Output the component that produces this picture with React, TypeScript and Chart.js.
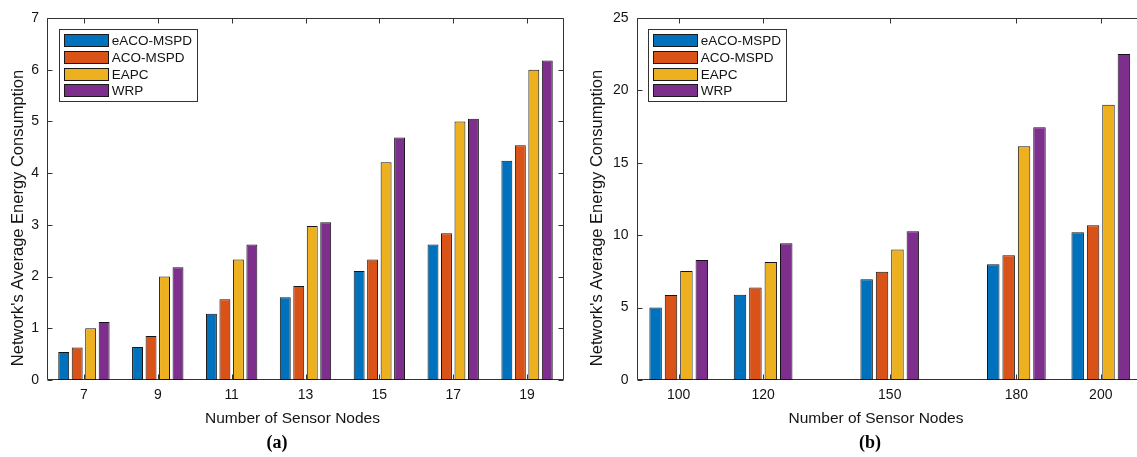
import React, { useEffect, useRef } from "react";
import { Chart, registerables } from "chart.js";

Chart.register(...registerables);

// ---------- data ----------
const seriesNames = ["eACO-MSPD", "ACO-MSPD", "EAPC", "WRP"];
const seriesColors = ["#0072BD", "#D95319", "#EDB120", "#7E2F8E"];

const nodesA = [7, 9, 11, 13, 15, 17, 19];
const eacoA = [0.54, 0.64, 1.28, 1.6, 2.11, 2.62, 4.24];
const acoA = [0.63, 0.85, 1.56, 1.82, 2.33, 2.84, 4.54];
const eapcA = [1.0, 2.0, 2.33, 2.98, 4.21, 5.0, 6.0];
const wrpA = [1.12, 2.18, 2.62, 3.05, 4.69, 5.05, 6.18];
const yTicksA = [0, 1, 2, 3, 4, 5, 6, 7];

const nodesB = [100, 120, 150, 180, 200];
const eacoB = [5.0, 5.89, 6.95, 7.99, 10.2];
const acoB = [5.87, 6.38, 7.48, 8.61, 10.68];
const eapcB = [7.53, 8.15, 9.02, 16.14, 19.01];
const wrpB = [8.29, 9.44, 10.27, 17.45, 22.51];
const yTicksB = [0, 5, 10, 15, 20, 25];

const xTitle = "Number of Sensor Nodes";
const yTitle = "Network's Average Energy Consumption";

const FONT = "'Liberation Sans', Arial, Helvetica, sans-serif";
const TEXT = "#141414";
const AXIS = "#333333";

type PanelCfg = {
  left: number;
  width: number;
  yAxisWidth: number;
  padRight: number;
  xMin: number;
  xMax: number;
  nodes: number[];
  series: number[][];
  yTicks: number[];
  xTitleX: number;
  panelLabel: string;
  panelLabelX: number;
  yTitleX: number;
  legendLeft: number;
};

const panelA: PanelCfg = {
  left: 0,
  width: 580,
  yAxisWidth: 47,
  padRight: 16,
  xMin: 6,
  xMax: 20,
  nodes: nodesA,
  series: [eacoA, acoA, eapcA, wrpA],
  yTicks: yTicksA,
  xTitleX: 292.5,
  panelLabel: "(a)",
  panelLabelX: 277,
  yTitleX: 18.5,
  legendLeft: 59.3,
};

const panelB: PanelCfg = {
  left: 580,
  width: 600,
  yAxisWidth: 56.5,
  padRight: 37,
  xMin: 90,
  xMax: 210,
  nodes: nodesB,
  series: [eacoB, acoB, eapcB, wrpB],
  yTicks: yTicksB,
  xTitleX: 296,
  panelLabel: "(b)",
  panelLabelX: 290,
  yTitleX: 17,
  legendLeft: 68.3,
};

function makeDecorPlugin(cfg: PanelCfg) {
  return {
    id: "matlabDecor",
    beforeDatasetsDraw(chart: any) {
      const { ctx, chartArea } = chart;
      const { left, right, top, bottom } = chartArea;
      const xs = chart.scales.x;
      const ys = chart.scales.y;
      ctx.save();
      ctx.strokeStyle = AXIS;
      ctx.lineWidth = 1;
      const L = Math.round(left) + 0.5;
      const R = Math.round(right) - 0.5;
      const T = Math.round(top) + 0.5;
      const B = Math.round(bottom) - 0.5;
      ctx.beginPath();
      ctx.moveTo(L, T);
      ctx.lineTo(R, T);
      ctx.lineTo(R, B);
      ctx.lineTo(L, B);
      ctx.closePath();
      ctx.stroke();
      const tl = 5;
      ctx.beginPath();
      for (const v of cfg.nodes) {
        const px = Math.round(xs.getPixelForValue(v)) + 0.5;
        ctx.moveTo(px, B);
        ctx.lineTo(px, B - tl);
        ctx.moveTo(px, T);
        ctx.lineTo(px, T + tl);
      }
      for (const v of cfg.yTicks) {
        const py = Math.round(ys.getPixelForValue(v)) + 0.5;
        ctx.moveTo(L, py);
        ctx.lineTo(L + tl, py);
        ctx.moveTo(R, py);
        ctx.lineTo(R - tl, py);
      }
      ctx.stroke();
      ctx.restore();
    },
    afterDraw(chart: any) {
      const { ctx } = chart;
      ctx.save();
      // axis titles
      ctx.fillStyle = TEXT;
      ctx.textAlign = "center";
      ctx.textBaseline = "middle";
      ctx.font = `15.5px ${FONT}`;
      ctx.fillText(xTitle, cfg.xTitleX, 418.5);
      ctx.save();
      ctx.translate(cfg.yTitleX, 218);
      ctx.rotate(-Math.PI / 2);
      ctx.font = `16.5px ${FONT}`;
      ctx.fillText(yTitle, 0, 0);
      ctx.restore();
      // panel label
      ctx.font = `bold 18px 'Liberation Serif', 'Times New Roman', serif`;
      ctx.fillStyle = "#000";
      ctx.fillText(cfg.panelLabel, cfg.panelLabelX, 443);

      // legend
      const bx = cfg.legendLeft;
      const by = 29.3;
      const bw = 138;
      const bh = 71.5;
      ctx.fillStyle = "#ffffff";
      ctx.fillRect(bx, by, bw, bh);
      ctx.strokeStyle = AXIS;
      ctx.lineWidth = 1;
      ctx.strokeRect(Math.round(bx) + 0.5, Math.round(by) + 0.5, Math.round(bw), Math.round(bh));
      ctx.font = `13.5px ${FONT}`;
      ctx.textAlign = "left";
      ctx.textBaseline = "middle";
      chart.data.datasets.forEach((ds: any, i: number) => {
        const sx = Math.round(bx + 4.4);
        const sy = Math.round(by + 4.7 + i * 16.8);
        ctx.fillStyle = "#1a1a1a";
        ctx.fillRect(sx, sy, 45, 13);
        ctx.fillStyle = ds.backgroundColor;
        ctx.fillRect(sx + 1, sy + 1, 43, 11);
        ctx.fillStyle = TEXT;
        ctx.fillText(ds.label, bx + 52.4, sy + 7);
      });
      ctx.restore();
    },
  };
}

function Panel({ cfg }: { cfg: PanelCfg }) {
  const ref = useRef<HTMLCanvasElement | null>(null);
  useEffect(() => {
    if (!ref.current) return;
    const datasets = cfg.series.map((vals, si) => ({
      type: "bar" as const,
      label: seriesNames[si],
      data: cfg.nodes.map((x, i) => ({ x, y: vals[i] })),
      backgroundColor: seriesColors[si],
      borderColor: "#141414",
      borderWidth: 1,
      borderSkipped: false,
      categoryPercentage: 0.73,
      barPercentage: 0.81,
    }));
    const chart = new Chart(ref.current, {
      type: "bar",
      data: { datasets },
      options: {
        animation: false,
        responsive: false,
        maintainAspectRatio: false,
        devicePixelRatio: 1,
        layout: { padding: { left: 0, right: cfg.padRight, top: 18, bottom: 0 } },
        plugins: {
          legend: { display: false },
          tooltip: { enabled: false },
          title: { display: false },
        },
        scales: {
          x: {
            type: "linear",
            min: cfg.xMin,
            max: cfg.xMax,
            offset: false,
            grid: { display: false, drawTicks: false },
            border: { display: false },
            afterBuildTicks: (s: any) => {
              s.ticks = cfg.nodes.map((v) => ({ value: v }));
            },
            afterFit: (s: any) => {
              s.height = 77;
            },
            ticks: {
              autoSkip: false,
              maxRotation: 0,
              padding: 7,
              color: TEXT,
              font: { family: FONT, size: 14 },
              callback: (v: any) => String(v),
            },
          },
          y: {
            type: "linear",
            min: 0,
            max: cfg.yTicks[cfg.yTicks.length - 1],
            grid: { display: false, drawTicks: false },
            border: { display: false },
            afterBuildTicks: (s: any) => {
              s.ticks = cfg.yTicks.map((v) => ({ value: v }));
            },
            afterFit: (s: any) => {
              s.width = cfg.yAxisWidth;
            },
            ticks: {
              padding: 8,
              color: TEXT,
              font: { family: FONT, size: 14 },
              callback: (v: any) => String(v),
            },
          },
        },
      } as any,
      plugins: [makeDecorPlugin(cfg)],
    });
    return () => chart.destroy();
  }, [cfg]);
  return (
    <canvas
      ref={ref}
      width={cfg.width}
      height={457}
      style={{ position: "absolute", left: cfg.left, top: 0, width: cfg.width, height: 457 }}
    />
  );
}

export default function App() {
  return (
    <div
      style={{
        position: "absolute",
        left: 0,
        top: 0,
        width: 1137,
        height: 457,
        overflow: "hidden",
        background: "#fff",
      }}
    >
      <Panel cfg={panelA} />
      <Panel cfg={panelB} />
    </div>
  );
}
